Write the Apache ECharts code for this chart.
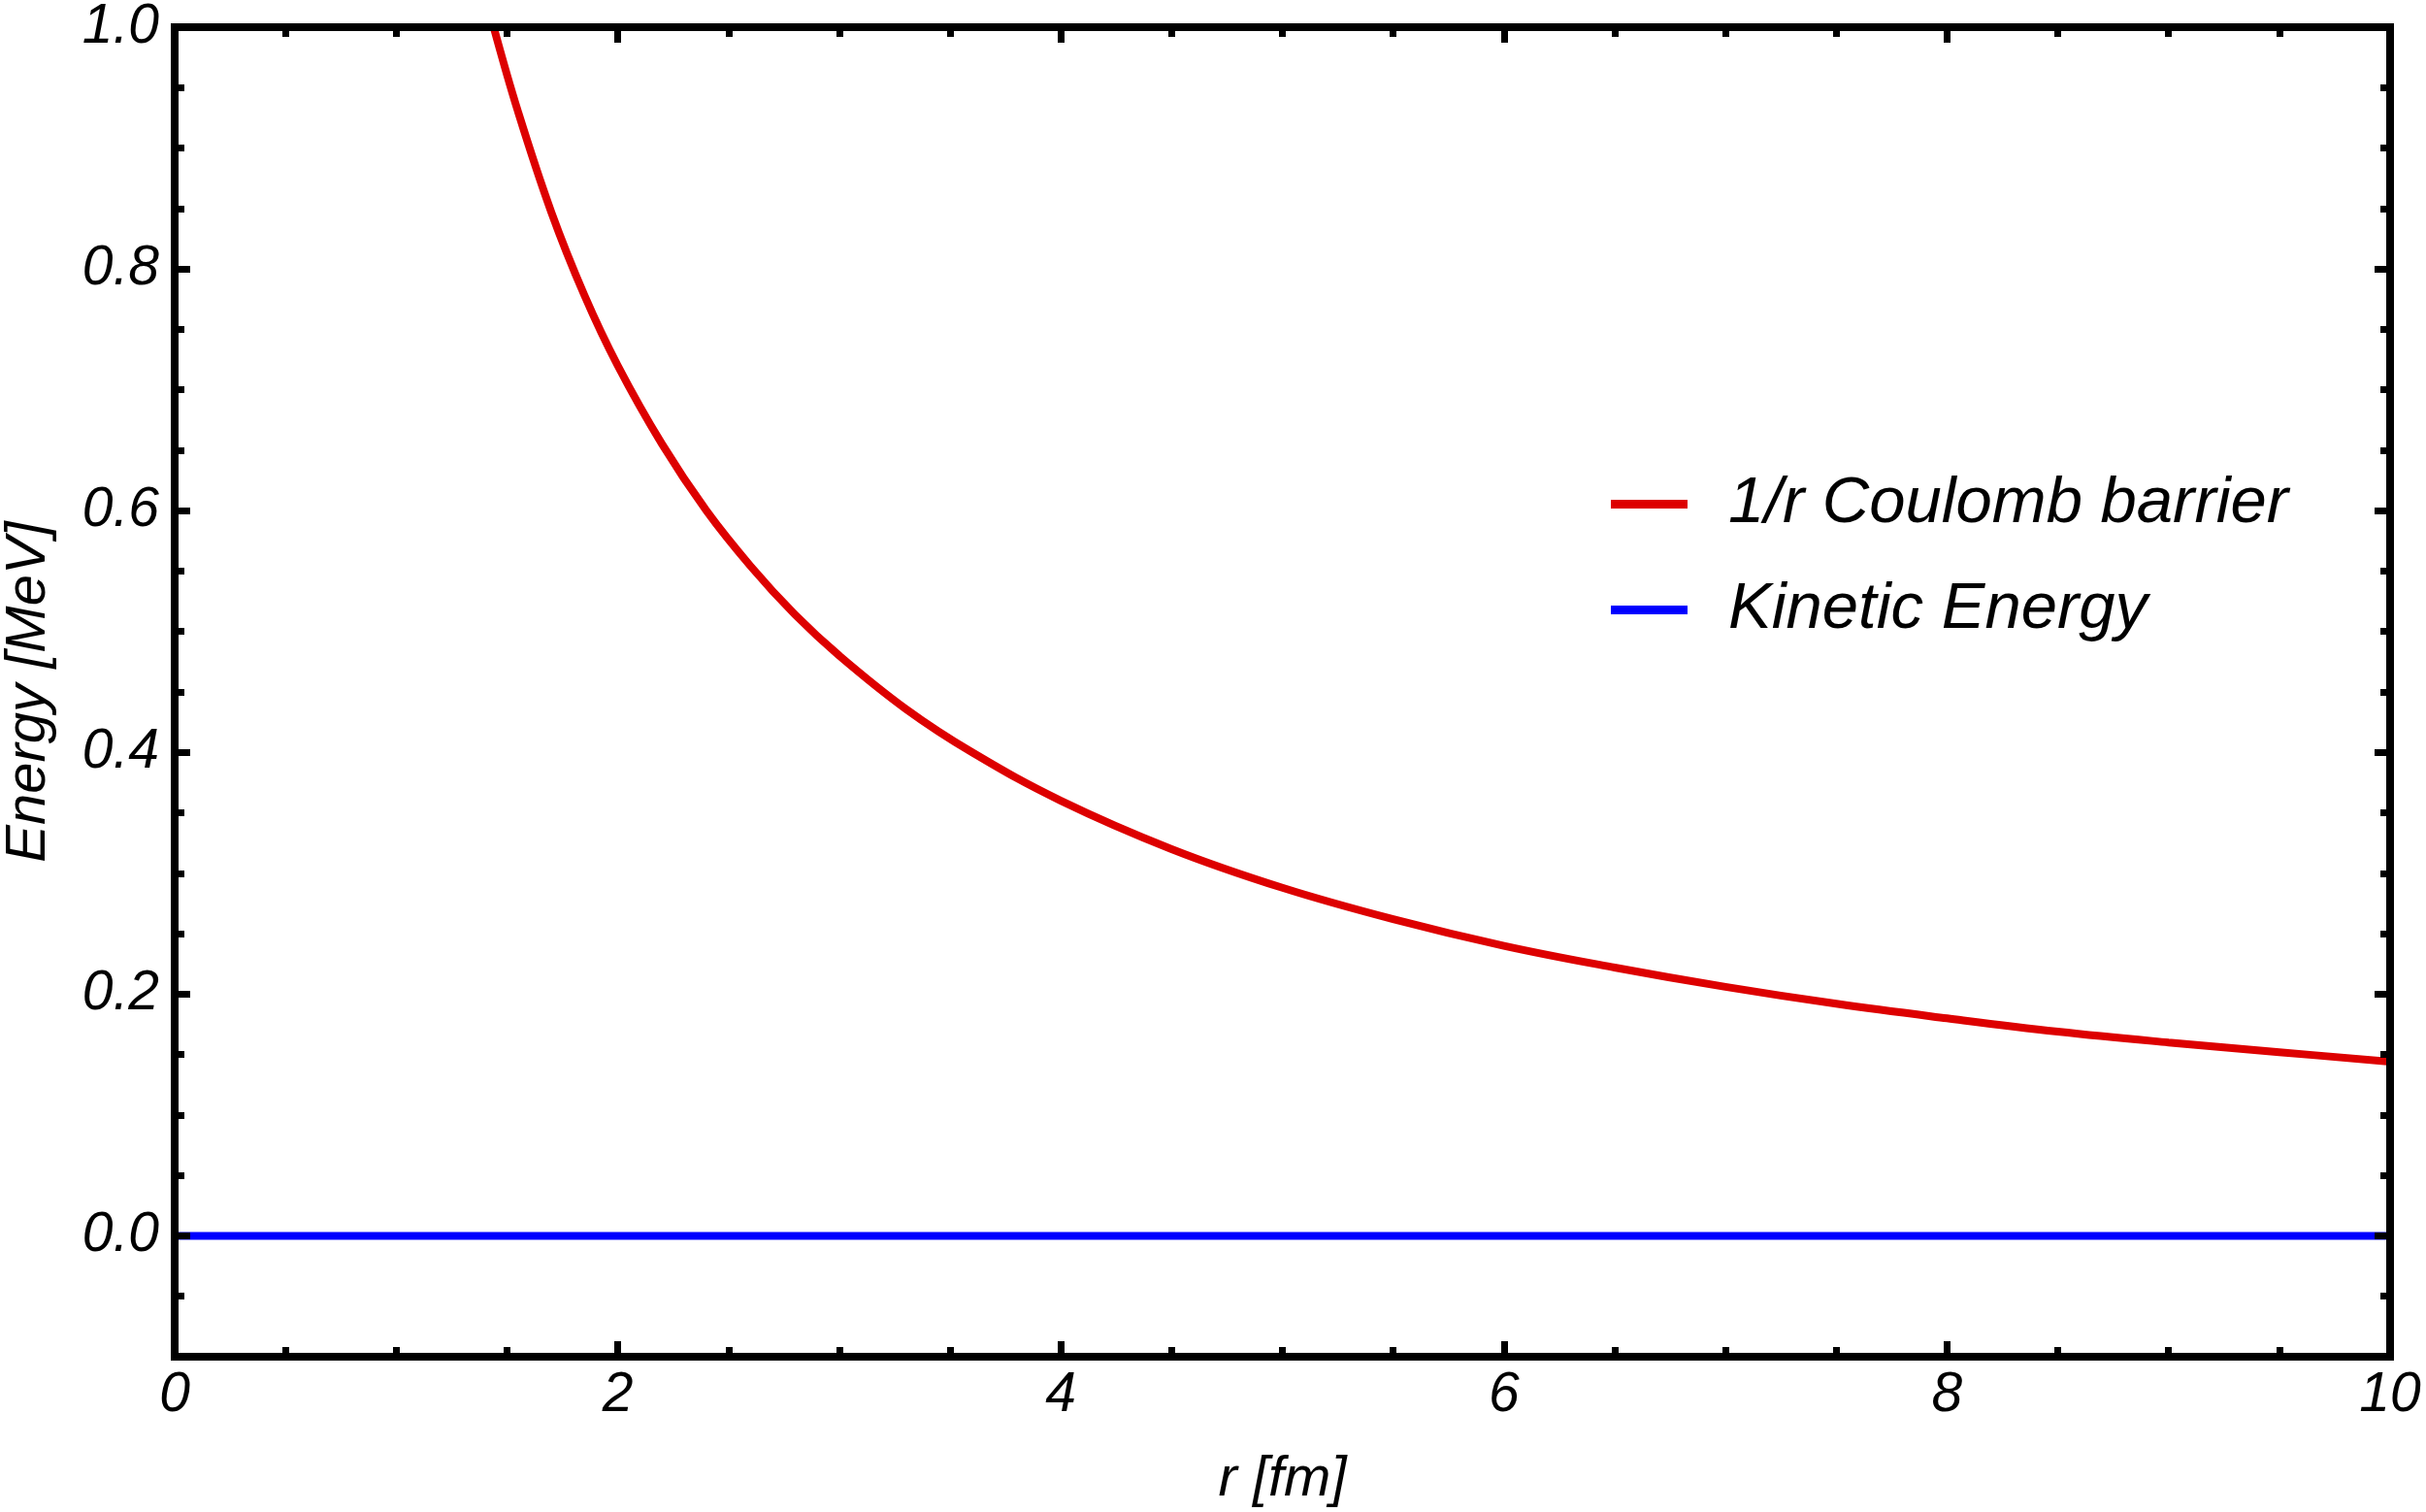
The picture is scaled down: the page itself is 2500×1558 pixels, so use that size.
<!DOCTYPE html>
<html>
<head>
<meta charset="utf-8">
<script src="https://cdn.jsdelivr.net/npm/echarts@6/dist/echarts.min.js"></script>
<style>
html,body{margin:0;padding:0;background:#fff;}
#chart{width:2500px;height:1558px;}
</style>
</head>
<body>
<div id="chart"></div>
<script>
// Values
var rValues = [1.44, 1.55, 1.7, 1.85, 2.0, 2.2, 2.4, 2.6, 2.8, 3.0, 3.3, 3.6, 4.0, 4.5, 5.0, 5.5, 6.0, 6.5, 7.0, 7.5, 8.0, 8.5, 9.0, 9.5, 10.0];
var coulombValues = [1.0, 0.93, 0.847, 0.778, 0.72, 0.655, 0.60, 0.554, 0.514, 0.48, 0.436, 0.40, 0.36, 0.32, 0.288, 0.262, 0.24, 0.222, 0.206, 0.192, 0.18, 0.169, 0.16, 0.152, 0.144];
var kineticR = [0, 10];
var kineticValues = [0, 0];
var seriesNames = ['1/r Coulomb barrier', 'Kinetic Energy'];
var yMajorTicks = [0, 0.2, 0.4, 0.6, 0.8, 1.0];
var yMinorTicks = [-0.05, 0.05, 0.1, 0.15, 0.25, 0.3, 0.35, 0.45, 0.5, 0.55, 0.65, 0.7, 0.75, 0.85, 0.9, 0.95];
var xTitle = 'r [fm]';
var yTitle = 'Energy [MeV]';

var FONT = 'Liberation Sans';
var lineStyle = {color: '#000', width: 8, cap: 'square'};

function pairs(xs, ys) { return xs.map(function (x, i) { return [x, ys[i]]; }); }

function xAxisDef(pos, showLabels) {
  return {
    type: 'value', position: pos, min: 0, max: 10, interval: 2, z: 5,
    name: showLabels ? xTitle : '', nameLocation: 'middle', nameGap: 98,
    nameTextStyle: {fontFamily: FONT, fontStyle: 'italic', fontSize: 58, color: '#000'},
    axisLine: {show: true, onZero: false, lineStyle: lineStyle},
    axisTick: {show: true, inside: true, length: 16, lineStyle: {color: '#000', width: 7}},
    minorTick: {show: true, splitNumber: 4, length: 10, lineStyle: {color: '#000', width: 7}},
    axisLabel: {show: showLabels, margin: 12, fontFamily: FONT, fontStyle: 'italic', fontSize: 57, color: '#000'},
    splitLine: {show: false}, minorSplitLine: {show: false}
  };
}

function yAxisDef(pos, major, showLabels) {
  return {
    type: 'value', position: pos, min: -0.1, max: 1.0, z: 5,
    name: showLabels ? yTitle : '', nameLocation: 'middle', nameGap: 121,
    nameTextStyle: {fontFamily: FONT, fontStyle: 'italic', fontSize: 58, color: '#000'},
    axisLine: {show: true, onZero: false, lineStyle: lineStyle},
    axisTick: {show: true, inside: true, length: major ? 16 : 10,
      customValues: major ? yMajorTicks : yMinorTicks,
      lineStyle: {color: '#000', width: 7}},
    axisLabel: {show: showLabels, margin: 16, customValues: yMajorTicks,
      formatter: function (v) { return v.toFixed(1); },
      fontFamily: FONT, fontStyle: 'italic', fontSize: 57, color: '#000'},
    splitLine: {show: false}
  };
}

var chart = echarts.init(document.getElementById('chart'), null, {renderer: 'canvas'});
chart.setOption({
  animation: false,
  backgroundColor: '#fff',
  grid: {left: 180, right: 37, top: 28, bottom: 160, containLabel: false, outerBoundsMode: 'none'},
  legend: {
    orient: 'vertical', left: 1655, top: 481,
    icon: 'rect', itemWidth: 79, itemHeight: 9, itemGap: 42,
    textStyle: {fontFamily: FONT, fontStyle: 'italic', fontSize: 67, color: '#000', lineHeight: 67, padding: [0, 0, 0, 37]},
    data: seriesNames
  },
  xAxis: [xAxisDef('bottom', true), xAxisDef('top', false)],
  yAxis: [yAxisDef('left', true, true), yAxisDef('left', false, false), yAxisDef('right', true, false), yAxisDef('right', false, false)],
  series: [
    {
      name: seriesNames[0], type: 'line', xAxisIndex: 0, yAxisIndex: 0,
      data: pairs(rValues, coulombValues), smooth: 0.4, showSymbol: false, symbol: 'none',
      color: '#dd0000', lineStyle: {color: '#dd0000', width: 8}, z: 2
    },
    {
      name: seriesNames[1], type: 'line', xAxisIndex: 0, yAxisIndex: 0,
      data: pairs(kineticR, kineticValues), showSymbol: false, symbol: 'none',
      color: '#0000ff', lineStyle: {color: '#0000ff', width: 8}, z: 2
    }
  ]
});
</script>
</body>
</html>
